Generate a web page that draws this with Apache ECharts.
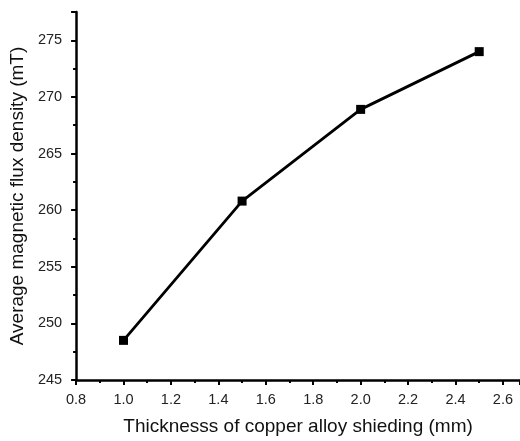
<!DOCTYPE html>
<html>
<head>
<meta charset="utf-8">
<script src="https://cdn.jsdelivr.net/npm/echarts@6/dist/echarts.min.js"></script>
<style>
  html, body { margin: 0; padding: 0; background: #fff; }
  #chart { width: 520px; height: 441px; }
</style>
</head>
<body>
<div id="chart"></div>
<script>
// Shield thickness (mm) and the resulting average flux density (mT)
const thickness = [1.0, 1.5, 2.0, 2.5];
const fluxDensity = [248.5, 260.8, 268.9, 274.0];
const xTicks = [0.8, 1.0, 1.2, 1.4, 1.6, 1.8, 2.0, 2.2, 2.4, 2.6];
const yTicks = [245, 250, 255, 260, 265, 270, 275];

const chart = echarts.init(document.getElementById('chart'), null, { renderer: 'canvas' });

const font = 'Liberation Sans, Arial, sans-serif';

chart.setOption({
  animation: false,
  grid: { left: 72.5, right: 0, top: 12, bottom: 60, containLabel: false },
  xAxis: {
    type: 'value',
    min: 0.8,
    max: 2.672,
    interval: 0.2,
    name: 'Thicknesss of copper alloy shieding (mm)',
    nameLocation: 'middle',
    nameGap: 37,
    nameTextStyle: { fontFamily: font, fontSize: 19, color: '#111' },
    axisLine: { show: true, onZero: false, lineStyle: { color: '#000', width: 2.5 } },
    axisTick: { show: true, inside: false, length: 5, lineStyle: { color: '#000', width: 2 } },
    minorTick: { show: true, splitNumber: 2, length: 3, lineStyle: { color: '#000', width: 2 } },
    splitLine: { show: false },
    axisLabel: {
      margin: 12,
      fontFamily: font,
      fontSize: 14.5,
      color: '#222',
      showMaxLabel: false,
      formatter: v => {
        const t = xTicks.find(k => Math.abs(k - v) < 1e-6);
        return t === undefined ? '' : t.toFixed(1);
      }
    }
  },
  yAxis: {
    type: 'value',
    min: 245,
    max: 277.5,
    interval: 5,
    name: 'Average magnetic flux density (mT)',
    nameLocation: 'middle',
    nameGap: 43,
    nameTextStyle: { fontFamily: font, fontSize: 19, color: '#111' },
    axisLine: { show: true, onZero: false, lineStyle: { color: '#000', width: 2.5 } },
    axisTick: { show: true, inside: false, length: 5, lineStyle: { color: '#000', width: 2 } },
    minorTick: { show: true, splitNumber: 2, length: 3, lineStyle: { color: '#000', width: 2 } },
    splitLine: { show: false },
    axisLabel: {
      margin: 14,
      fontFamily: font,
      fontSize: 14.5,
      color: '#222',
      showMaxLabel: false,
      formatter: v => (yTicks.indexOf(v) >= 0 ? String(v) : '')
    }
  },
  series: [{
    type: 'line',
    data: thickness.map((x, i) => [x, fluxDensity[i]]),
    symbol: 'rect',
    symbolSize: 9,
    lineStyle: { color: '#000', width: 2.8 },
    itemStyle: { color: '#000' }
  }]
});
</script>
</body>
</html>
